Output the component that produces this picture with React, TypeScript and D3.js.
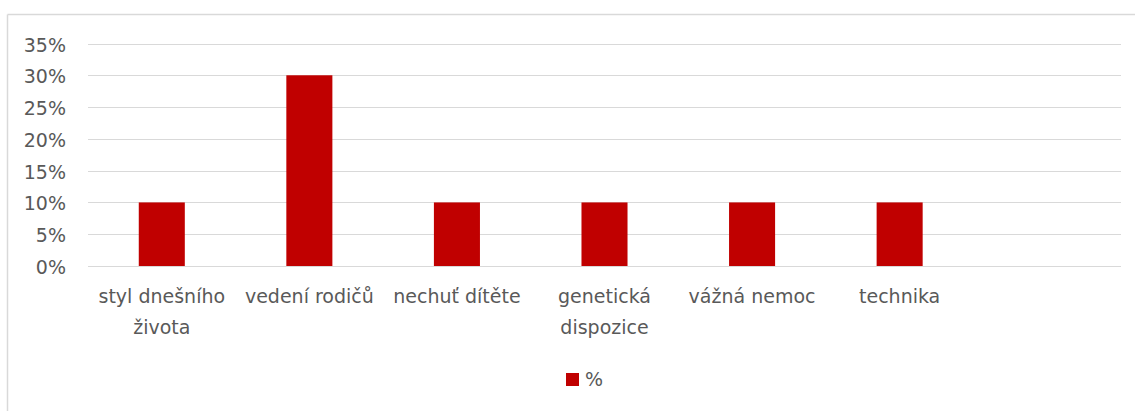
import React from "react";
import * as d3 from "d3";

const categories: string[] = [
  "styl dnešního\nživota",
  "vedení rodičů",
  "nechuť dítěte",
  "genetická\ndispozice",
  "vážná nemoc",
  "technika",
  "",
];
const values: (number | null)[] = [0.1, 0.3, 0.1, 0.1, 0.1, 0.1, null];
const yTicks: number[] = [0, 0.05, 0.1, 0.15, 0.2, 0.25, 0.3, 0.35];
const seriesName = "%";

const W = 1138;
const H = 411;
const FONT = "'DejaVu Sans', sans-serif";
const TEXT = "#595959";
const GRID = "#d9d9d9";
const BAR = "#C00000";

export default function App() {
  const x = d3.scaleBand<number>().domain(d3.range(categories.length)).range([88, 1121]).padding(0);
  const y = d3.scaleLinear().domain([0, 0.35]).range([266, 43.5]);
  const bw = x.bandwidth() * 0.312;
  const fmt = d3.format(".0%");

  return (
    <svg width={W} height={H} style={{ position: "absolute", left: 0, top: 0, background: "#fff" }}>
      <line x1={7.5} x2={1135} y1={14.5} y2={14.5} stroke={GRID} strokeWidth={1.5} />
      <line x1={7.5} x2={7.5} y1={14.5} y2={411} stroke={GRID} strokeWidth={1.5} />
      {yTicks.map((t) => (
        <g key={t}>
          <line x1={88} x2={1121} y1={Math.round(y(t)) + 0.5} y2={Math.round(y(t)) + 0.5} stroke={GRID} strokeWidth={1} />
          <text x={66} y={y(t) + 8} textAnchor="end" fontFamily={FONT} fontSize={19} fill={TEXT}>
            {fmt(t)}
          </text>
        </g>
      ))}
      {values.map((v, i) =>
        v == null ? null : (
          <rect
            key={i}
            x={(x(i) as number) + x.bandwidth() / 2 - bw / 2}
            y={y(v)}
            width={bw}
            height={y(0) - y(v)}
            fill={BAR}
          />
        )
      )}
      {categories.map((c, i) => (
        <text key={i} textAnchor="middle" fontFamily={FONT} fontSize={19} fill={TEXT}>
          {c.split("\n").map((line, j) => (
            <tspan key={j} x={(x(i) as number) + x.bandwidth() / 2} y={303 + j * 30.5}>
              {line}
            </tspan>
          ))}
        </text>
      ))}
      <rect x={566} y={373} width={13} height={13} fill={BAR} />
      <text x={585} y={386} fontFamily={FONT} fontSize={19} fill={TEXT}>
        {seriesName}
      </text>
    </svg>
  );
}
